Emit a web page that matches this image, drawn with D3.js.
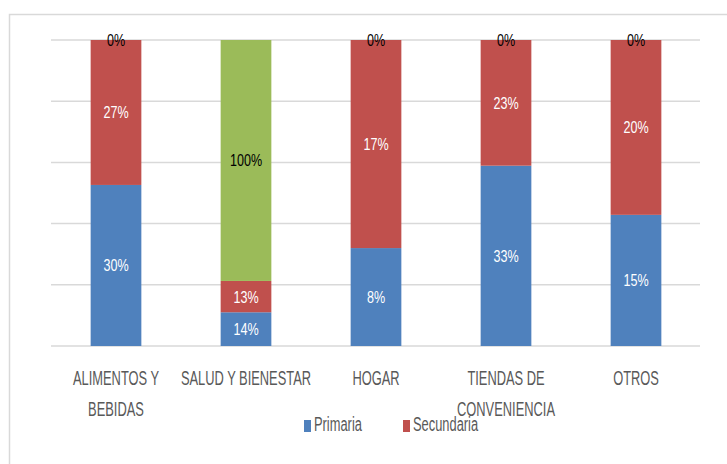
<!DOCTYPE html>
<html>
<head>
    <script src="https://d3js.org/d3.v7.min.js"></script>
    <style>
        body { margin: 0; background: #FFFFFF; }
        text { font-family: "Liberation Sans", Arial, sans-serif; }
    </style>
</head>
<body>
    <div id="chart"></div>
    <script>
        // Data
        var categories = [["ALIMENTOS Y", "BEBIDAS"], ["SALUD Y BIENESTAR"], ["HOGAR"], ["TIENDAS DE", "CONVENIENCIA"], ["OTROS"]];
        var primaria = [30, 14, 8, 33, 15];
        var secundaria = [27, 13, 17, 23, 20];
        var otra = [0, 100, 0, 0, 0];
        var seriesNames = ["Primaria", "Secundaria", "Otra"];
        var colors = ["#4F81BD", "#C0504D", "#9BBB59"];
        var yTicks = [0, 0.2, 0.4, 0.6, 0.8, 1];

        var W = 727, H = 464;
        var svg = d3.select("#chart").append("svg")
            .attr("width", W).attr("height", H);

        // Outer frame
        svg.append("rect")
            .attr("x", 9.5).attr("y", 14.5)
            .attr("width", W).attr("height", H)
            .attr("fill", "none").attr("stroke", "#D9D9D9").attr("stroke-width", 1.5);

        var keys = categories.map(function(c) { return c.join(" "); });
        var rows = keys.map(function(k, i) {
            return { key: k, Primaria: primaria[i], Secundaria: secundaria[i], Otra: otra[i] };
        });

        var x = d3.scaleBand().domain(keys).range([51, 701]).paddingInner(0.61).paddingOuter(0.305);
        var y = d3.scaleLinear().domain([0, 1]).range([346, 40]);

        // Gridlines
        svg.append("g").selectAll("line").data(yTicks).join("line")
            .attr("x1", 51).attr("x2", 700)
            .attr("y1", function(d) { return y(d); }).attr("y2", function(d) { return y(d); })
            .attr("stroke", "#D9D9D9").attr("stroke-width", 1.5);

        var stack = d3.stack().keys(seriesNames).offset(d3.stackOffsetExpand);
        var layers = stack(rows);

        var g = svg.append("g");
        layers.forEach(function(layer, li) {
            g.selectAll(".bar" + li).data(layer).join("rect")
                .attr("x", function(d) { return x(d.data.key); })
                .attr("width", x.bandwidth())
                .attr("y", function(d) { return y(d[1]); })
                .attr("height", function(d) { return y(d[0]) - y(d[1]); })
                .attr("fill", colors[li]);
        });

        // Data labels
        layers.forEach(function(layer, li) {
            layer.forEach(function(d) {
                var v = d.data[layer.key];
                var cx = x(d.data.key) + x.bandwidth() / 2;
                var cy = (y(d[0]) + y(d[1])) / 2;
                var col = (li === 2) ? "#000000" : "#FFFFFF";
                svg.append("text")
                    .attr("transform", "translate(" + cx + "," + (cy + 6) + ") scale(0.74,1)")
                    .attr("text-anchor", "middle")
                    .attr("font-size", 17)
                    .attr("fill", col)
                    .text(v + "%");
            });
        });

        // Category labels
        categories.forEach(function(lines, i) {
            var cx = x(keys[i]) + x.bandwidth() / 2;
            lines.forEach(function(t, j) {
                svg.append("text")
                    .attr("transform", "translate(" + cx + "," + (385 + j * 31) + ") scale(0.66,1)")
                    .attr("text-anchor", "middle")
                    .attr("font-size", 19.5)
                    .attr("fill", "#595959")
                    .text(t);
            });
        });

        // Legend
        var legend = [{ name: "Primaria", x: 304 }, { name: "Secundaria", x: 403 }];
        legend.forEach(function(l, i) {
            svg.append("rect")
                .attr("x", l.x).attr("y", 420)
                .attr("width", 7).attr("height", 12)
                .attr("fill", colors[i]);
            svg.append("text")
                .attr("transform", "translate(" + (l.x + 10) + ",431) scale(0.66,1)")
                .attr("font-size", 19.5)
                .attr("fill", "#595959")
                .text(l.name);
        });
    </script>
</body>
</html>
